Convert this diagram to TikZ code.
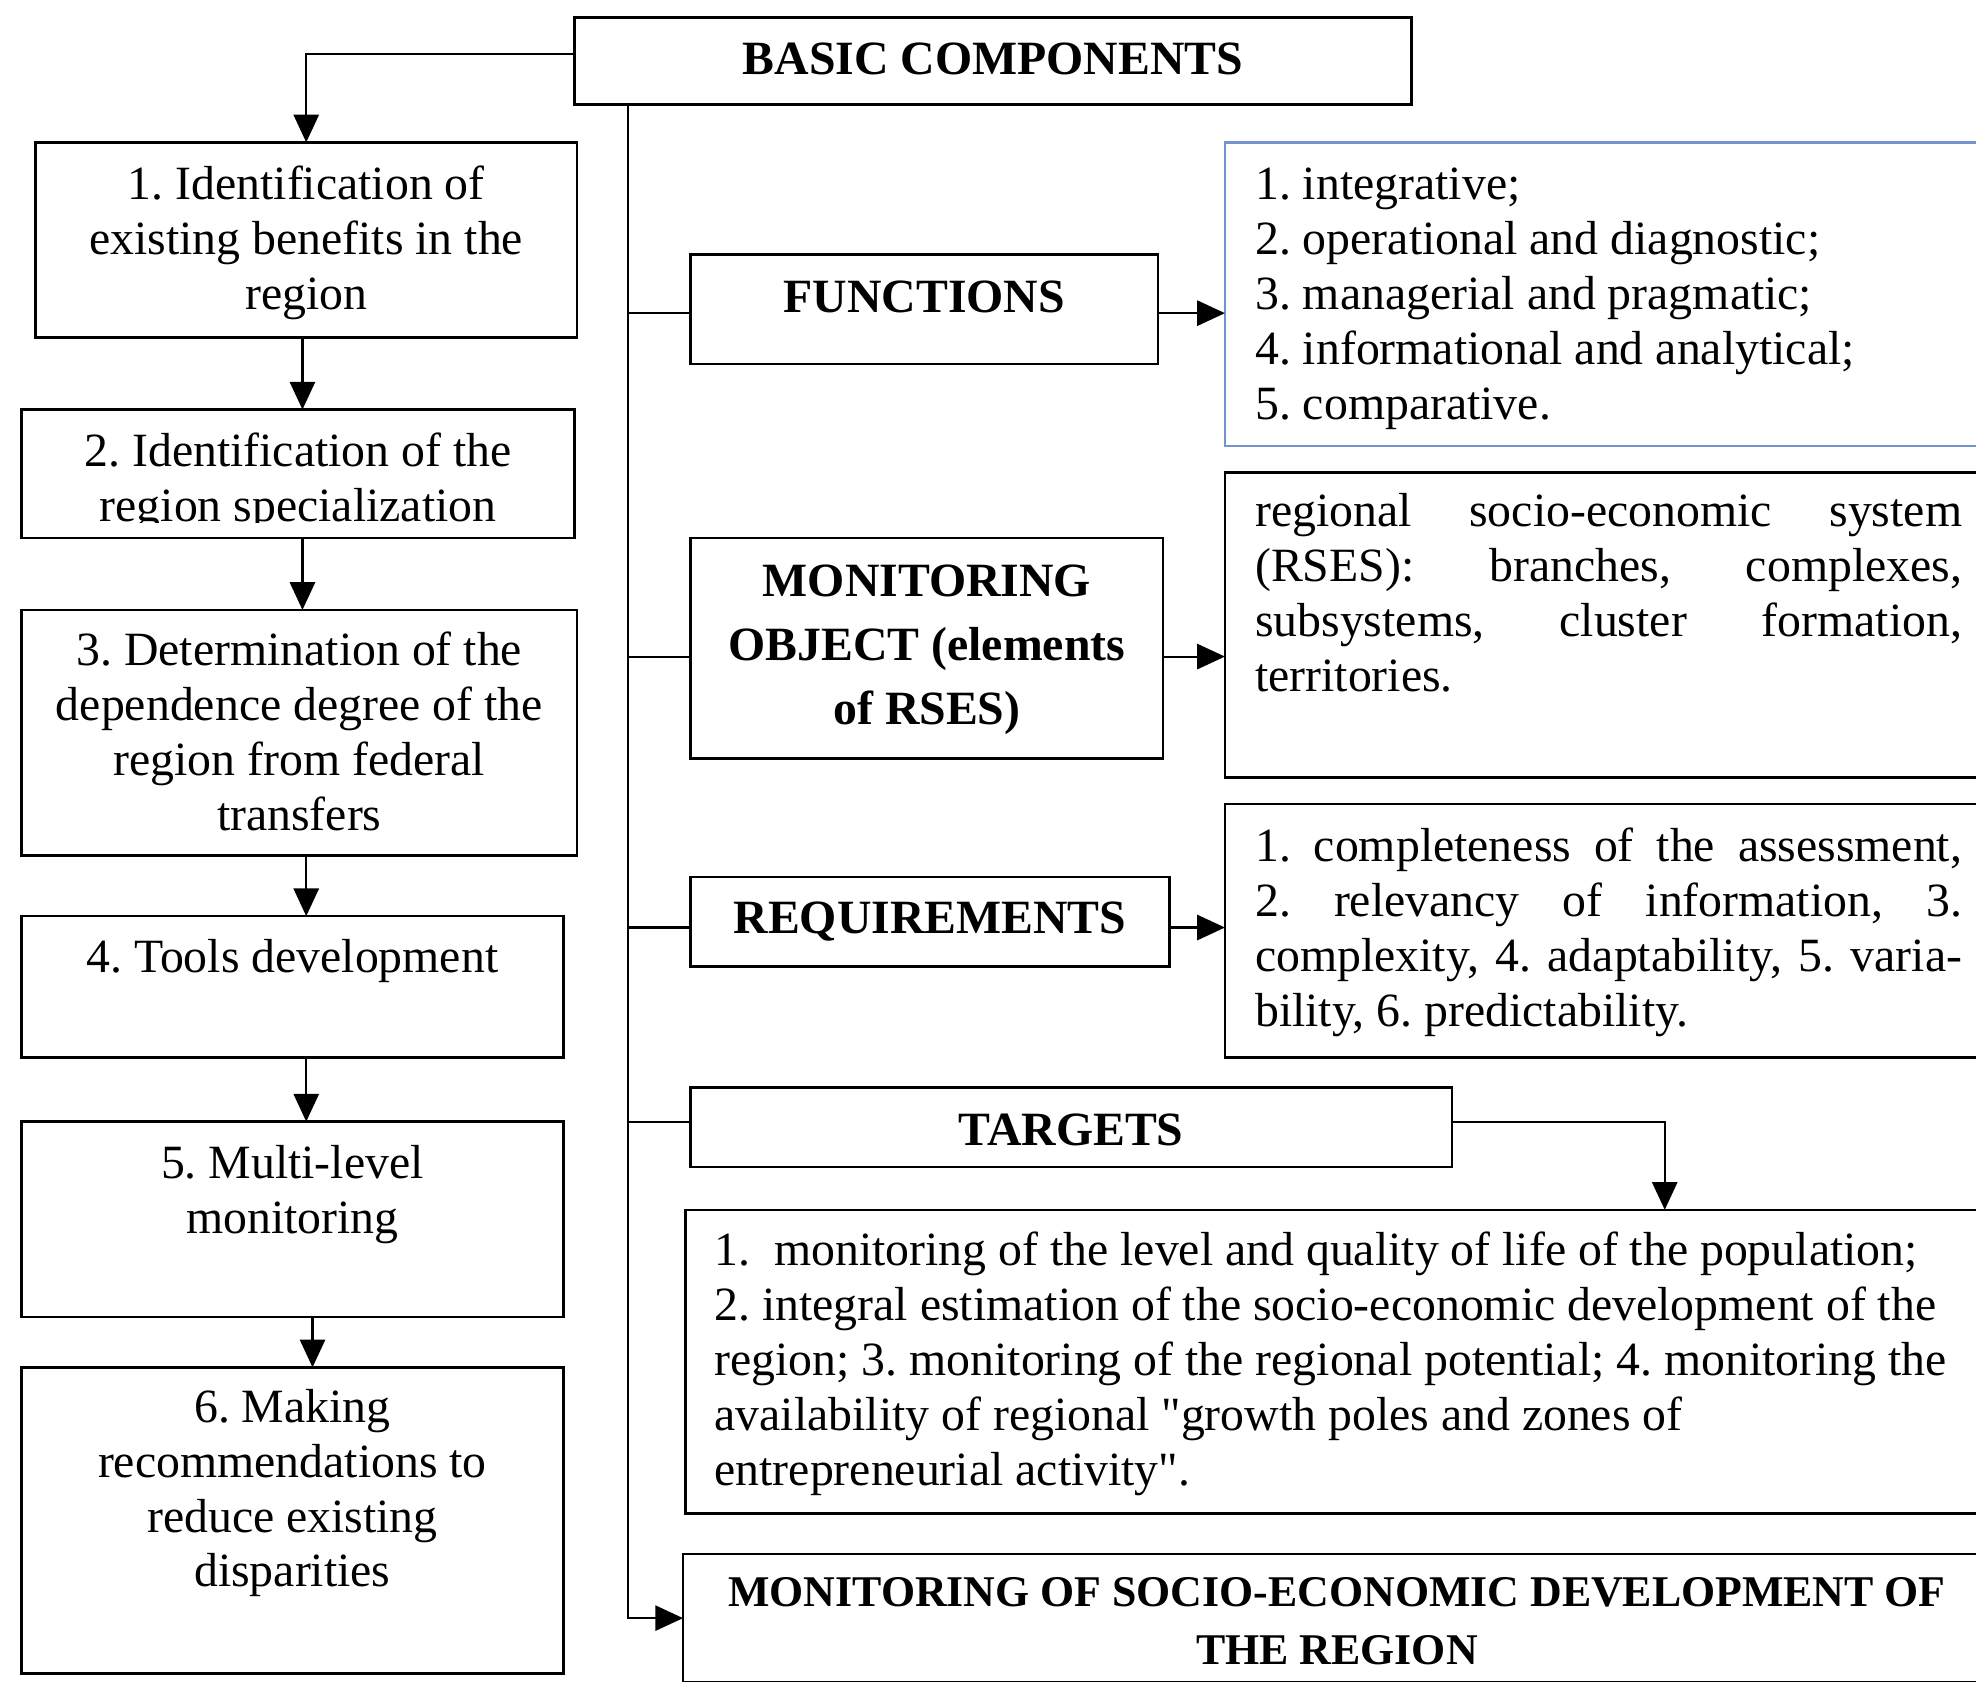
\documentclass[tikz,border=0pt]{standalone}
\usepackage{fontspec}
\setmainfont{Liberation Serif}
\usetikzlibrary{arrows.meta}
\frenchspacing
\newcommand{\bx}[5]{\begin{minipage}[t][#2][t]{#1}\frenchspacing#4\rule{0pt}{#3}#5\end{minipage}}
\definecolor{boxblue}{RGB}{114,147,203}
\begin{document}
\begin{tikzpicture}[x=1pt,y=-1pt,
  box/.style={draw, line width=2pt, inner sep=0pt, outer sep=0pt, anchor=north west,
    font=\fontsize{37.9pt}{43.6pt}\selectfont},
  conn/.style={line width=1.7pt},
  arr/.style={conn, -{Triangle[length=22pt,width=20pt]}}]
\useasboundingbox (0,0) rectangle (1568,1334);
\clip (0,0) rectangle (1568,1334);

% header
\node[box] (basic) at (456,14) {\bx{664pt}{69pt}{45pt}{\centering\bfseries}{BASIC COMPONENTS}};

% left column
\node[box] (b1) at (28,113) {\bx{430pt}{155pt}{45.5pt}{\centering}{1. Identification of\\existing benefits in the\\region}};
\node[box] (b2) at (17,325) {\bx{439pt}{102pt}{45.5pt}{\centering}{2. Identification of the\\region specialization}};
\fill[white] (19,415) rectangle (454,425.3);
\node[box] (b3) at (17,484) {\bx{441pt}{195pt}{44pt}{\centering}{3. Determination of the\\dependence degree of the\\region from federal\\transfers}};
\node[box] (b4) at (17,727) {\bx{430pt}{112pt}{45pt}{\centering}{4. Tools development}};
\node[box] (b5) at (17,890) {\bx{430pt}{155pt}{45pt}{\centering}{5. Multi-level\\monitoring}};
\node[box] (b6) at (17,1085) {\bx{430pt}{243pt}{43.5pt}{\centering}{6. Making\\recommendations to\\reduce existing\\disparities}};

% right column
\node[box] (fun) at (548,202) {\bx{371pt}{87pt}{45.6pt}{\centering\bfseries}{FUNCTIONS}};
\node[box, draw=boxblue] (funl) at (972,113) {\bx{608pt}{241pt}{45.5pt}{\leftskip=24pt}{1. integrative;\\2. operational and diagnostic;\\3. managerial and pragmatic;\\4. informational and analytical;\\5. comparative.}};

\node[box] (mo) at (548,427) {\bx{375pt}{175pt}{46pt}{\centering\bfseries\baselineskip=51pt}{MONITORING\\OBJECT (elements\\of RSES)}};
\node[box] (rses) at (972,375) {\bx{608pt}{242pt}{43pt}{\leftskip=24pt\rightskip=23pt\tolerance=10000\exhyphenpenalty=10000\hbadness=10000}{regional socio-economic system\linebreak (RSES): branches, complexes,\linebreak subsystems, cluster formation,\linebreak territories.}};

\node[box] (req) at (548,696) {\bx{380pt}{71pt}{45pt}{\centering\bfseries}{REQUIREMENTS}};
\node[box] (reql) at (972,638) {\bx{608pt}{201pt}{45.5pt}{\leftskip=24pt\rightskip=23pt\tolerance=10000\exhyphenpenalty=10000\hbadness=10000}{1. completeness of the assessment,\linebreak 2. relevancy of information, 3.\linebreak complexity, 4. adaptability, 5. varia-\linebreak bility, 6. predictability.}};

\node[box] (tg) at (548,863) {\bx{604pt}{63pt}{45.6pt}{\centering\bfseries}{TARGETS}};
\node[box] (tl) at (544,960) {\bx{1036pt}{241pt}{44.5pt}{\leftskip=23pt}{1.~ monitoring of the level and quality of life of the population;\\2. integral estimation of the socio-economic development of the\\region; 3. monitoring of the regional potential; 4. monitoring the\\availability of regional \textquotedbl growth poles and zones of\\entrepreneurial activity\textquotedbl.}};

\node[box] (fin) at (542,1233) {\bx{1038pt}{102pt}{42pt}{\centering\bfseries\fontsize{34.8pt}{46pt}\selectfont}{MONITORING OF SOCIO-ECONOMIC DEVELOPMENT OF\\THE REGION}};

% connectors, left column
\draw[arr] ([yshift=5.5pt]basic.west) -| (b1.north);
\draw[arr] ([xshift=-3pt]b1.south) -- ([xshift=-3pt]b1.south |- b2.north);
\draw[arr] ([xshift=3.5pt]b2.south) -- ([xshift=3.5pt]b2.south |- b3.north);
\draw[arr] ([xshift=5.5pt]b3.south) -- ([xshift=5.5pt]b3.south |- b4.north);
\draw[arr] ([xshift=11pt]b4.south) -- ([xshift=11pt]b4.south |- b5.north);
\draw[arr] ([xshift=16pt]b5.south) -- ([xshift=16pt]b5.south |- b6.north);

% trunk and branches
\coordinate (t0) at ([xshift=42pt]basic.south west);
\draw[arr] (t0) |- (fin.west);
\draw[conn] ([yshift=-3pt]fun.west -| t0) -- ([yshift=-3pt]fun.west);
\draw[conn] ([yshift=-6.5pt]mo.west -| t0) -- ([yshift=-6.5pt]mo.west);
\draw[conn] ([yshift=-4.5pt]req.west -| t0) -- ([yshift=-4.5pt]req.west);
\draw[conn] ([yshift=4.5pt]tg.west -| t0) -- ([yshift=4.5pt]tg.west);

% right arrows
\draw[arr] ([yshift=-3pt]fun.east) -- ([yshift=-3pt]fun.east -| funl.west);
\draw[arr] ([yshift=-6.5pt]mo.east) -- ([yshift=-6.5pt]mo.east -| rses.west);
\draw[arr] ([yshift=-4.5pt]req.east) -- ([yshift=-4.5pt]req.east -| reql.west);
\coordinate (tbend) at (1321,890);
\draw[arr] ([yshift=4.5pt]tg.east) -- (tbend) -- (tbend |- tl.north);
\end{tikzpicture}
\end{document}
